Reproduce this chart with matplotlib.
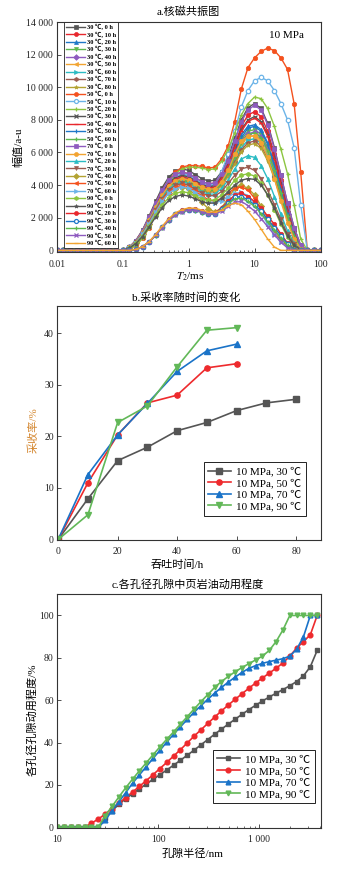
import matplotlib
matplotlib.use("Agg")
import matplotlib.pyplot as plt
from matplotlib.ticker import FixedLocator, LogLocator, NullFormatter

plt.rcParams['font.family'] = ['Liberation Serif', 'Noto Sans CJK SC']
plt.rcParams['mathtext.fontset'] = 'stix'
plt.rcParams['axes.unicode_minus'] = False

# ---------------- panel a: NMR T2 spectra ----------------
T2 = [0.01, 0.0126, 0.0158, 0.02, 0.0251, 0.0316, 0.0398, 0.0501, 0.0631, 0.0794,
      0.1, 0.126, 0.158, 0.2, 0.251, 0.316, 0.398, 0.501, 0.631, 0.794,
      1.0, 1.26, 1.58, 2.0, 2.51, 3.16, 3.98, 5.01, 6.31, 7.94,
      10.0, 12.6, 15.8, 20.0, 25.1, 31.6, 39.8, 50.1, 63.1, 79.4, 100.0]

amp_30_0 = [0,0,0,0,0,0,0,0,0,0, 0,200,600,1250,2100,3000,3850,4500,4850,5000,4900,4650,4400,4250,4300, 4800,5700,6900,8000,8750,9000,8700,7800,6300,4600,2900,1400,300,0,0,0]
amp_30_10 = [0,0,0,0,0,0,0,0,0,0, 0,190,580,1200,2020,2880,3700,4320,4660,4800,4700,4460,4220,4080,4130, 4600,5400,6500,7600,8300,8500,8200,7300,5900,4300,2700,1200,250,0,0,0]
amp_30_20 = [0,0,0,0,0,0,0,0,0,0, 0,180,550,1150,1930,2760,3540,4140,4460,4600,4510,4280,4050,3910,3960, 4400,5100,6100,7100,7600,7700,7400,6600,5300,3900,2400,1100,200,0,0,0]
amp_30_30 = [0,0,0,0,0,0,0,0,0,0, 0,180,540,1130,1890,2700,3470,4050,4370,4500,4410,4190,3960,3830,3870, 4300,4950,5900,6800,7300,7400,7100,6300,5100,3700,2300,1000,200,0,0,0]
amp_30_40 = [0,0,0,0,0,0,0,0,0,0, 0,180,530,1100,1850,2640,3390,3960,4270,4400,4310,4090,3870,3740,3780, 4250,4900,5800,6700,7150,7250,6950,6200,5000,3600,2200,950,150,0,0,0]
amp_30_50 = [0,0,0,0,0,0,0,0,0,0, 0,170,520,1080,1810,2580,3310,3870,4170,4300,4210,4000,3780,3660,3700, 4150,4750,5650,6500,6950,7050,6750,6000,4800,3500,2100,900,150,0,0,0]
amp_30_60 = [0,0,0,0,0,0,0,0,0,0, 0,170,520,1080,1810,2580,3310,3870,4170,4300,4210,4000,3780,3660,3700, 4100,4700,5500,6300,6750,6850,6550,5800,4650,3350,2000,850,100,0,0,0]
amp_30_70 = [0,0,0,0,0,0,0,0,0,0, 0,170,500,1050,1760,2520,3230,3780,4070,4200,4120,3910,3700,3570,3610, 4000,4600,5400,6150,6600,6700,6400,5650,4500,3250,1950,800,100,0,0,0]
amp_30_80 = [0,0,0,0,0,0,0,0,0,0, 0,170,500,1050,1760,2520,3230,3780,4070,4200,4120,3910,3700,3570,3610, 3950,4550,5300,6050,6450,6550,6250,5500,4400,3150,1900,750,100,0,0,0]

amp_50_0 = [0,0,0,0,0,0,0,0,0,0, 0,80,300,750,1400,2300,3300,4200,4800,5100,5200,5200,5150,5050,5100, 5600,6400,7900,9900,11200,11800,12200,12400,12250,11800,11100,9000,4800,0,0,0]
amp_50_10 = [0,0,0,0,0,0,0,0,0,0, 0,190,560,1180,1970,2820,3620,4230,4560,4700,4610,4370,4140,4000,4050, 4800,5900,7300,8800,9800,10400,10600,10400,9800,9000,8000,6300,2800,0,0,0]
amp_50_20 = [0,0,0,0,0,0,0,0,0,0, 0,80,290,730,1370,2250,3230,4100,4700,5000,5100,5100,5050,4950,5000, 5450,6200,7200,8300,9000,9400,9300,8700,7600,6200,4700,2800,700,0,0,0]
amp_50_30 = [0,0,0,0,0,0,0,0,0,0, 0,180,550,1150,1930,2760,3540,4140,4460,4600,4510,4280,4050,3910,3960, 4500,5300,6400,7400,8000,8200,7900,7100,5700,4100,2500,1100,200,0,0,0]
amp_50_40 = [0,0,0,0,0,0,0,0,0,0, 0,180,540,1130,1890,2700,3470,4050,4370,4500,4410,4190,3960,3830,3870, 4400,5200,6300,7300,7900,8100,7800,7000,5600,4000,2400,1000,200,0,0,0]
amp_50_50 = [0,0,0,0,0,0,0,0,0,0, 0,180,530,1100,1850,2640,3390,3960,4270,4400,4310,4090,3870,3740,3780, 4200,4900,5900,6900,7500,7600,7300,6500,5200,3700,2200,950,150,0,0,0]
amp_50_60 = [0,0,0,0,0,0,0,0,0,0, 0,170,520,1080,1810,2580,3310,3870,4170,4300,4210,4000,3780,3660,3700, 4100,4750,5700,6600,7100,7200,6900,6100,4900,3500,2100,900,150,0,0,0]

amp_70_0 = [0,0,0,0,0,0,0,0,0,0, 0,190,580,1200,2020,2880,3700,4320,4660,4800,4700,4460,4220,4080,4130, 4700,5500,6700,7900,8600,8900,8600,7700,6200,4600,2900,1400,300,0,0,0]
amp_70_10 = [0,0,0,0,0,0,0,0,0,0, 0,180,530,1100,1850,2640,3390,3960,4270,4400,4310,4090,3870,3740,3780, 4200,4900,5900,6700,7000,7000,6600,5700,4400,3000,1700,700,100,0,0,0]
amp_70_20 = [0,0,0,0,0,0,0,0,0,0, 0,170,500,1050,1760,2520,3230,3780,4070,4200,4100,3850,3600,3450,3450, 3800,4300,5000,5600,5800,5700,5200,4400,3300,2200,1200,450,50,0,0,0]
amp_70_30 = [0,0,0,0,0,0,0,0,0,0, 0,160,490,1030,1720,2460,3160,3690,3980,4100,4000,3750,3500,3350,3350, 3600,4100,4600,5000,5100,4900,4400,3700,2800,1900,1000,400,50,0,0,0]
amp_70_40 = [0,0,0,0,0,0,0,0,0,0, 0,150,470,980,1640,2340,3000,3510,3780,3900,3750,3400,2950,2550,2350, 2600,3200,3800,4000,3800,3400,2700,2000,1300,700,300,50,0,0,0,0]
amp_70_50 = [0,0,0,0,0,0,0,0,0,0, 0,160,480,1000,1680,2400,3080,3600,3880,4000,3900,3650,3350,3100,3000, 3200,3500,3800,3900,3700,3200,2500,1800,1100,600,250,50,0,0,0,0]
amp_70_60 = [0,0,0,0,0,0,0,0,0,0, 0,160,470,980,1640,2340,3000,3510,3780,3900,3800,3550,3250,3000,2900, 3050,3300,3500,3550,3350,2900,2300,1600,1000,500,200,50,0,0,0,0]

amp_90_0 = [0,0,0,0,0,0,0,0,0,0, 0,140,430,900,1510,2160,2770,3240,3490,3600,3530,3350,3170,3060,3100, 3400,3800,4300,4600,4700,4550,4100,3400,2500,1600,800,250,0,0,0,0]
amp_90_10 = [0,0,0,0,0,0,0,0,0,0, 0,140,410,850,1430,2040,2620,3060,3300,3400,3330,3160,2990,2890,2900, 3200,3600,4000,4300,4400,4350,4000,3400,2600,1700,900,300,50,0,0,0]
amp_90_20 = [0,0,0,0,0,0,0,0,0,0, 0,0,60,230,520,950,1450,1900,2250,2450,2550,2530,2420,2300,2300, 2600,3000,3400,3500,3300,3000,2600,2100,1600,1000,450,50,0,0,0,0]
amp_90_30 = [0,0,0,0,0,0,0,0,0,0, 0,0,60,225,510,930,1420,1860,2200,2400,2500,2480,2370,2250,2250, 2550,2900,3250,3300,3100,2800,2400,1900,1400,900,400,50,0,0,0,0]
amp_90_40 = [0,0,0,0,0,0,0,0,0,0, 0,0,55,220,500,910,1390,1820,2160,2350,2450,2430,2320,2210,2210, 2500,2850,3150,3200,3000,2700,2250,1750,1250,750,300,0,0,0,0,0]
amp_90_50 = [0,0,0,0,0,0,0,0,0,0, 0,0,55,220,500,920,1400,1840,2180,2380,2470,2450,2350,2230,2230, 2400,2700,2950,3000,2750,2400,1950,1450,950,500,150,0,0,0,0,0]
amp_90_60 = [0,0,0,0,0,0,0,0,0,0, 0,0,60,235,530,970,1480,1940,2300,2500,2600,2580,2470,2350,2350, 2450,2750,2900,2800,2400,1900,1300,700,200,0,0,0,0,0,0,0]

nmr_labels = ['30 ℃, 0 h', '30 ℃, 10 h', '30 ℃, 20 h', '30 ℃, 30 h', '30 ℃, 40 h', '30 ℃, 50 h',
              '30 ℃, 60 h', '30 ℃, 70 h', '30 ℃, 80 h',
              '50 ℃, 0 h', '50 ℃, 10 h', '50 ℃, 20 h', '50 ℃, 30 h', '50 ℃, 40 h', '50 ℃, 50 h', '50 ℃, 60 h',
              '70 ℃, 0 h', '70 ℃, 10 h', '70 ℃, 20 h', '70 ℃, 30 h', '70 ℃, 40 h', '70 ℃, 50 h', '70 ℃, 60 h',
              '90 ℃, 0 h', '90 ℃, 10 h', '90 ℃, 20 h', '90 ℃, 30 h', '90 ℃, 40 h', '90 ℃, 50 h', '90 ℃, 60 h']
nmr_series = [amp_30_0, amp_30_10, amp_30_20, amp_30_30, amp_30_40, amp_30_50, amp_30_60, amp_30_70, amp_30_80,
              amp_50_0, amp_50_10, amp_50_20, amp_50_30, amp_50_40, amp_50_50, amp_50_60,
              amp_70_0, amp_70_10, amp_70_20, amp_70_30, amp_70_40, amp_70_50, amp_70_60,
              amp_90_0, amp_90_10, amp_90_20, amp_90_30, amp_90_40, amp_90_50, amp_90_60]

palette = ['#555555', '#e8272d', '#1f78c8', '#5db84e', '#8e5bbf', '#f2a431',
           '#2cbcc4', '#9b5b50', '#b3a332', '#f4511e', '#6cb4e8', '#8cc540']
markers = ['s', 'o', '^', 'v', 'D', '<', '>', 'h', '*', 'o', 'o', '+', 'x', '_', '|', '+']

# ---------------- panel b: recovery vs time ----------------
time_30 = [0, 10, 20, 30, 40, 50, 60, 70, 80]
rec_30 = [0, 7.9, 15.3, 17.9, 21.1, 22.7, 25.0, 26.5, 27.2]
time_50 = [0, 10, 20, 30, 40, 50, 60]
rec_50 = [0, 11.0, 20.3, 26.5, 28.0, 33.3, 34.1]
time_70 = [0, 10, 20, 30, 40, 50, 60]
rec_70 = [0, 12.6, 20.3, 26.4, 32.6, 36.6, 37.9]
time_90 = [0, 10, 20, 30, 40, 50, 60]
rec_90 = [0, 4.8, 22.7, 25.9, 33.5, 40.6, 41.1]
series_labels = ['10 MPa, 30 ℃', '10 MPa, 50 ℃', '10 MPa, 70 ℃', '10 MPa, 90 ℃']

# ---------------- panel c: mobilisation by pore radius ----------------
radius = [10, 11.7, 13.7, 16.0, 18.7, 21.8, 25.5, 29.8, 34.8, 40.7, 47.5, 55.6, 64.9, 75.9, 88.7,
          103.6, 121.1, 141.6, 165.4, 193.4, 226.0, 264.1, 308.7, 360.7, 421.6, 492.7, 575.8, 673.0,
          786.5, 919.2, 1074, 1255, 1467, 1715, 2004, 2342, 2737, 3199, 3739]
mob_30 = [0, 0, 0, 0, 0, 0, 0, 4.2, 7.8, 10.8, 13.5, 15.8, 18.1, 20.4, 22.6, 24.8, 27.0, 29.3, 31.6, 34.0,
          36.4, 38.9, 41.4, 43.9, 46.3, 48.7, 51.0, 53.3, 55.5, 57.6, 59.6, 61.5, 63.3, 65.0, 66.8, 68.8,
          71.5, 75.8, 83.5]
mob_50 = [0, 0, 0, 0, 0, 1.9, 3.9, 6.2, 8.8, 11.4, 14.0, 16.6, 19.3, 22.0, 24.8, 27.7, 30.6, 33.6, 36.6,
          39.8, 43.0, 46.0, 49.0, 52.0, 54.9, 57.7, 60.4, 63.0, 65.6, 68.1, 70.5, 72.8, 75.1, 77.6, 80.8,
          84.6, 87.7, 90.9, 100]
mob_70 = [0, 0, 0, 0, 0, 0, 0, 3.2, 7.9, 12.0, 16.3, 20.8, 24.7, 28.6, 32.5, 36.3, 40.2, 43.9, 47.4, 50.9,
          54.3, 57.4, 60.4, 63.3, 66.0, 68.5, 70.9, 73.1, 75.0, 76.3, 77.4, 78.2, 78.9, 79.6, 80.8, 84.0,
          90.0, 100, 100]
mob_90 = [0, 0, 0, 0, 0, 0, 0, 5.5, 9.8, 14.3, 18.6, 22.7, 26.6, 30.4, 34.2, 37.9, 41.5, 45.0, 48.6, 52.2,
          55.8, 59.3, 62.6, 66.0, 68.8, 71.2, 73.4, 75.4, 77.2, 79.0, 80.8, 83.5, 87.7, 93.2, 100, 100,
          100, 100, 100]

line_colors = ['#555555', '#ee2a2d', '#1a73c8', '#62b858']
line_markers = ['s', 'o', '^', 'v']

W, H = 339, 873
fig = plt.figure(figsize=(W / 100, H / 100), dpi=100)


def box(l, r, t, b):
    return [l / W, 1 - b / H, (r - l) / W, (b - t) / H]


def style(ax):
    for s in ax.spines.values():
        s.set_linewidth(0.8)
        s.set_color('#333333')
    ax.tick_params(which='both', direction='in', top=False, right=False, colors='#333333',
                   labelcolor='#222222', labelsize=7)
    ax.tick_params(which='major', length=3, width=0.6)
    ax.tick_params(which='minor', length=1.8, width=0.5)


# ---- panel a ----
ax1 = fig.add_axes(box(56.7, 320.5, 22, 252))
for i, (ys, lab) in enumerate(zip(nmr_series, nmr_labels)):
    c = palette[i % 12]
    m = markers[i % 16]
    kw = dict(color=c, lw=1.0, marker=m, ms=3.2, mew=0.5, label=lab)
    if i in (10, 26):
        kw['mfc'] = 'white'
        kw['mew'] = 0.9
    if m in ('+', 'x', '|', '_'):
        kw['mew'] = 0.9
        kw['ms'] = 3.4
    ax1.plot(T2, ys, **kw)
ax1.set_xscale('log')
ax1.set_xlim(0.01, 100)
ax1.set_ylim(-100, 14000)
ax1.xaxis.set_major_locator(FixedLocator([0.01, 0.1, 1, 10, 100]))
ax1.set_xticklabels(['0.01', '0.1', '1', '10', '100'])
ax1.xaxis.set_minor_locator(LogLocator(base=10, subs=range(2, 10)))
ax1.xaxis.set_minor_formatter(NullFormatter())
ax1.set_yticks([0, 2000, 4000, 6000, 8000, 10000, 12000, 14000])
ax1.set_yticklabels(['0', '2 000', '4 000', '6 000', '8 000', '10 000', '12 000', '14 000'])
style(ax1)
ax1.tick_params(axis='x', pad=5.5)
ax1.tick_params(axis='y', pad=2.5)
ax1.text(0.869, 0.943, '10 MPa', transform=ax1.transAxes, ha='center', va='center', fontsize=8)
leg1 = ax1.legend(loc='upper left', bbox_to_anchor=(0.028, 1.0), borderaxespad=0,
                  prop={'size': 4.6, 'weight': 'bold'}, labelspacing=0.19, handlelength=3.0,
                  handletextpad=0.3, borderpad=0.3, frameon=True, fancybox=False, framealpha=1,
                  edgecolor='#222222', markerscale=0.9)
leg1.get_frame().set_linewidth(0.6)

fig.text(188.6 / W, 1 - 12 / H, 'a.核磁共振图', ha='center', va='center', fontsize=8)
fig.text(190 / W, 1 - 277 / H, r'$T_2$/ms', ha='center', va='center', fontsize=8)
fig.text(18 / W, 1 - 147 / H, '幅值/a-u', ha='center', va='center', rotation=90, fontsize=8)

# ---- panel b ----
ax2 = fig.add_axes(box(57.3, 321, 306, 540))
for t, r, c, m, lab in zip([time_30, time_50, time_70, time_90], [rec_30, rec_50, rec_70, rec_90],
                           line_colors, line_markers, series_labels):
    ax2.plot(t, r, color=c, marker=m, ms=3.8, lw=1.2, label=lab)
ax2.set_xlim(-0.3, 88.4)
ax2.set_ylim(-0.1, 45.3)
ax2.set_xticks([0, 20, 40, 60, 80])
ax2.set_yticks([0, 10, 20, 30, 40])
style(ax2)
ax2.tick_params(axis='x', pad=5)
ax2.tick_params(axis='y', pad=2.5)
leg2 = ax2.legend(loc='upper left', bbox_to_anchor=(0.556, 0.333), borderaxespad=0, fontsize=8,
                  labelspacing=0.15, handlelength=2.0, handletextpad=0.5, borderpad=0.4,
                  fancybox=False, framealpha=1, edgecolor='#222222')
leg2.get_frame().set_linewidth(0.7)
fig.text(186 / W, 1 - 297 / H, 'b.采收率随时间的变化', ha='center', va='center', fontsize=8)
fig.text(177 / W, 1 - 565 / H, '吞吐时间/h', ha='center', va='center', fontsize=8)
fig.text(33 / W, 1 - 430 / H, '采收率/%', ha='center', va='center', rotation=90, fontsize=8,
         color='#d4862e')

# ---- panel c ----
ax3 = fig.add_axes(box(57.3, 321, 594.3, 828.3))
for y, c, m, lab in zip([mob_30, mob_50, mob_70, mob_90], line_colors, line_markers, series_labels):
    ax3.plot(radius, y, color=c, marker=m, ms=3.4, lw=1.2, label=lab)
ax3.set_xscale('log')
ax3.set_xlim(10, 4080)
ax3.set_ylim(-0.5, 110)
ax3.xaxis.set_major_locator(FixedLocator([10, 100, 1000]))
ax3.set_xticklabels(['10', '100', '1 000'])
ax3.xaxis.set_minor_locator(LogLocator(base=10, subs=range(2, 10)))
ax3.xaxis.set_minor_formatter(NullFormatter())
ax3.set_yticks([0, 20, 40, 60, 80, 100])
style(ax3)
ax3.tick_params(axis='x', pad=4.5)
ax3.tick_params(axis='y', pad=2.5)
leg3 = ax3.legend(loc='upper left', bbox_to_anchor=(0.590, 0.335), borderaxespad=0, fontsize=8,
                  labelspacing=0.15, handlelength=2.0, handletextpad=0.5, borderpad=0.4,
                  fancybox=False, framealpha=1, edgecolor='#222222')
leg3.get_frame().set_linewidth(0.7)
fig.text(188 / W, 1 - 584 / H, 'c.各孔径孔隙中页岩油动用程度', ha='center', va='center', fontsize=8)
fig.text(192.5 / W, 1 - 854 / H, '孔隙半径/nm', ha='center', va='center', fontsize=8)
fig.text(32 / W, 1 - 720 / H, '各孔径孔隙动用程度/%', ha='center', va='center', rotation=90, fontsize=8)

fig.savefig('out.png', dpi=100, facecolor='white')
